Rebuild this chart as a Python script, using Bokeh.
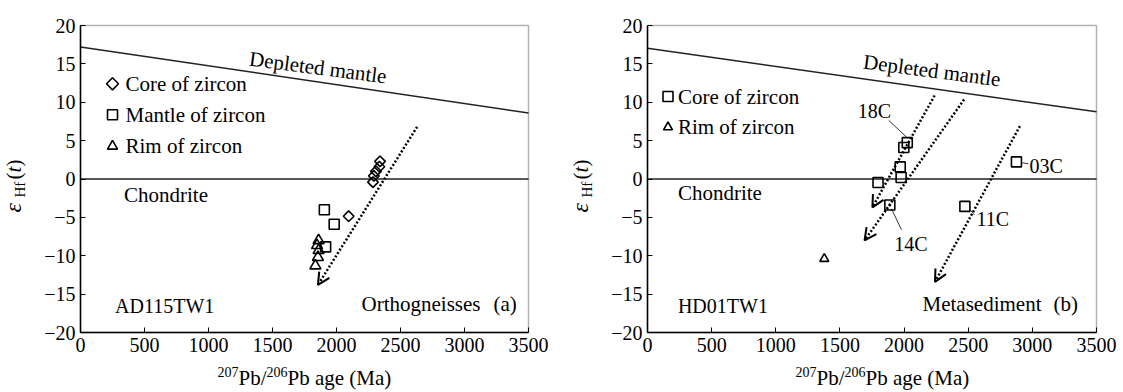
import math
from bokeh.plotting import figure
from bokeh.models import (Range1d, FixedTicker, Label, Arrow, OpenHead,
                          ColumnDataSource, LinearAxis, BoxAnnotation)
from bokeh.layouts import row
from bokeh.embed import file_html
from bokeh.resources import INLINE

FONT = "Liberation Serif"

# ---------------- data ----------------
age_ticks = [0, 500, 1000, 1500, 2000, 2500, 3000, 3500]
eps_ticks = [-20, -15, -10, -5, 0, 5, 10, 15, 20]
age_lim = (0, 3500)
eps_lim = (-20, 20)

dm_age = [0, 3500]
dm_eps_a = [17.2, 8.6]
dm_eps_b = [17.05, 8.75]
chon_age = [0, 3500]
chon_eps = [0, 0]

# panel (a) AD115TW1
a_core_age = [2340, 2335, 2308, 2292, 2285, 2095]
a_core_eps = [2.3, 1.6, 1.0, 0.4, -0.4, -4.85]
a_mantle_age = [1905, 1982, 1915]
a_mantle_eps = [-4.0, -5.9, -8.85]
a_rim_age = [1860, 1848, 1860, 1855, 1835]
a_rim_eps = [-8.0, -8.65, -9.3, -10.2, -11.3]
a_arrow_age0 = [2630]
a_arrow_eps0 = [6.8]
a_arrow_age1 = [1855]
a_arrow_eps1 = [-13.8]

# panel (b) HD01TW1
b_core_age = [2025, 1998, 1970, 1977, 1797, 1889, 2474, 2876]
b_core_eps = [4.74, 4.1, 1.58, 0.2, -0.45, -3.39, -3.57, 2.23]
b_rim_age = [1378]
b_rim_eps = [-10.4]
b_arrow_age0 = [2238, 2468, 2903]
b_arrow_eps0 = [10.88, 10.36, 6.9]
b_arrow_age1 = [1753, 1692, 2241]
b_arrow_eps1 = [-3.7, -8.0, -13.4]
b_spot_names = ["18C", "14C", "11C", "03C"]
b_lead_age0 = [1881, 1980, 2513, 2922]
b_lead_eps0 = [7.62, -6.62, -4.0, 2.11]
b_lead_age1 = [2030, 1902, 2548, 2970]
b_lead_eps1 = [5.3, -3.88, -4.67, 1.98]

# ---------------- layout helpers ----------------
TOP, BOTTOM = 25, 332      # page px of the data frame (eps 20 / -20)
H = 392


def converter(left, right):
    """page pixel -> data coordinate"""
    def conv(px, py):
        return ((px - left) / (right - left) * 3500.0,
                20.0 - (py - TOP) / (BOTTOM - TOP) * 40.0)
    return conv


def lab(p, conv, px, py, text, size=21, align="left", angle=0.0, style="normal"):
    x, y = conv(px, py)
    p.add_layout(Label(x=x, y=y, text=text, text_font=FONT,
                       text_font_size=f"{size}px", text_align=align,
                       text_baseline="middle", angle=angle,
                       text_font_style=style, text_color="black"))


def make_fig(conv, x0, x1):
    xs, ye = conv(x0, 0)
    xe, ys = conv(x1, H)
    p = figure(width=x1 - x0, height=H, x_range=Range1d(xs, xe),
               y_range=Range1d(ys, ye), output_backend="svg",
               toolbar_location=None, min_border=0,
               x_axis_location=None, y_axis_location=None, title=None)
    p.grid.visible = False
    p.outline_line_color = None
    p.background_fill_color = "white"
    p.border_fill_color = "white"
    xa = LinearAxis(fixed_location=eps_lim[0], bounds=age_lim,
                    ticker=FixedTicker(ticks=age_ticks))
    ya = LinearAxis(fixed_location=age_lim[0], bounds=eps_lim,
                    ticker=FixedTicker(ticks=eps_ticks))
    ya.major_label_overrides = {t: ("\u2212%d" % -t if t < 0 else str(t)) for t in eps_ticks}
    for ax in (xa, ya):
        ax.axis_line_width = 1.5
        ax.axis_line_color = "black"
        ax.major_tick_in = 5
        ax.major_tick_out = 0
        ax.major_tick_line_color = "black"
        ax.minor_tick_in = 0
        ax.minor_tick_out = 0
        ax.major_label_text_font = FONT
        ax.major_label_text_font_size = "20px"
        ax.major_label_text_color = "black"
        ax.major_label_standoff = 5
    p.add_layout(xa, "below")
    p.add_layout(ya, "left")
    p.add_layout(BoxAnnotation(left=age_lim[0], right=age_lim[1],
                               bottom=eps_lim[0], top=eps_lim[1],
                               fill_alpha=0, line_color="black", line_width=1.5))
    return p


def axis_titles(p, conv, ylab_x, xlab_x):
    # y title  epsilon_Hf(t), rotated; anchors are em-box middles
    r = math.pi / 2
    lab(p, conv, ylab_x - 8.2, 212, "\u03b5", size=24, angle=r, style="italic")
    lab(p, conv, ylab_x - 1.1, 197, "Hf", size=15, angle=r)
    lab(p, conv, ylab_x - 7.1, 179, "(", size=21, angle=r)
    lab(p, conv, ylab_x - 7.1, 172, "t", size=21, angle=r, style="italic")
    lab(p, conv, ylab_x - 7.1, 166, ")", size=21, angle=r)
    # x title  207Pb/206Pb age (Ma)
    mid = 377.5
    sup = 371.5
    x = xlab_x
    lab(p, conv, x, sup, "207", size=14)
    x += 21
    lab(p, conv, x, mid, "Pb/", size=21)
    x += 28
    lab(p, conv, x, sup, "206", size=14)
    x += 21
    lab(p, conv, x, mid, "Pb age (Ma)", size=21)


def add_arrows(p, x0, y0, x1, y1):
    src = ColumnDataSource(dict(x0=x0, y0=y0, x1=x1, y1=y1))
    p.add_layout(Arrow(end=OpenHead(size=12, line_width=2, line_color="black"),
                       source=src, x_start="x0", y_start="y0", x_end="x1", y_end="y1",
                       line_width=2.5, line_dash="2 2", line_color="black"))


MK = dict(line_color="black", line_width=1.6, fill_alpha=0)
DM_ANGLE = -7.5 * math.pi / 180

# ---------------- panel (a) ----------------
ca = converter(80, 528)
pa = make_fig(ca, 0, 560)
pa.line(dm_age, dm_eps_a, line_color="#222222", line_width=1.5)
pa.line(chon_age, chon_eps, line_color="#222222", line_width=1.5)
add_arrows(pa, a_arrow_age0, a_arrow_eps0, a_arrow_age1, a_arrow_eps1)
pa.scatter(a_core_age, a_core_eps, marker="square", angle=math.pi / 4, size=7.5, **MK)
pa.scatter(a_mantle_age, a_mantle_eps, marker="square", size=10, **MK)
pa.scatter(a_rim_age, a_rim_eps, marker="triangle", size=11, **MK)

lx, ly = ca(112, 83.3)
pa.scatter([lx], [ly], marker="square", angle=math.pi / 4, size=8.5, **MK)
lx, ly = ca(112, 114.3)
pa.scatter([lx], [ly], marker="square", size=10, **MK)
lx, ly = ca(112, 145.7)
pa.scatter([lx], [ly], marker="triangle", size=10, **MK)
lab(pa, ca, 125, 83.3, "Core of zircon")
lab(pa, ca, 125, 114.3, "Mantle of zircon")
lab(pa, ca, 125, 145.7, "Rim of zircon")
lab(pa, ca, 123.5, 194, "Chondrite")
lab(pa, ca, 114.6, 305, "AD115TW1", size=20)
lab(pa, ca, 361, 303, "Orthogneisses")
lab(pa, ca, 493, 303, "(a)")
lab(pa, ca, 249, 58, "Depleted mantle", angle=DM_ANGLE)
axis_titles(pa, ca, 21, 217)

# ---------------- panel (b) ----------------
cb = converter(647, 1096)
pb = make_fig(cb, 560, 1123)
pb.line(dm_age, dm_eps_b, line_color="#222222", line_width=1.5)
pb.line(chon_age, chon_eps, line_color="#222222", line_width=1.5)
add_arrows(pb, b_arrow_age0, b_arrow_eps0, b_arrow_age1, b_arrow_eps1)
pb.segment(b_lead_age0, b_lead_eps0, b_lead_age1, b_lead_eps1, line_color="#333333", line_width=1)
pb.scatter(b_core_age, b_core_eps, marker="square", size=10, **MK)
pb.scatter(b_core_age[5:6], b_core_eps[5:6], marker="circle", size=2, fill_color="black", line_color="black")
pb.scatter(b_rim_age, b_rim_eps, marker="triangle", size=9, **MK)

lx, ly = cb(667.5, 96)
pb.scatter([lx], [ly], marker="square", size=10, **MK)
lx, ly = cb(667.5, 126.7)
pb.scatter([lx], [ly], marker="triangle", size=9, **MK)
lab(pb, cb, 677.4, 96, "Core of zircon")
lab(pb, cb, 677.4, 126.7, "Rim of zircon")
lab(pb, cb, 677.4, 192.7, "Chondrite")
lab(pb, cb, 677.4, 305, "HD01TW1", size=20)
lab(pb, cb, 922, 303, "Metasediment")
lab(pb, cb, 1053, 303, "(b)")
lab(pb, cb, 863, 61, "Depleted mantle", angle=DM_ANGLE)
lab(pb, cb, 874, 110, b_spot_names[0], size=20, align="center")
lab(pb, cb, 910.5, 243, b_spot_names[1], size=20, align="center")
lab(pb, cb, 976, 218, b_spot_names[2], size=20)
lab(pb, cb, 1029, 165.7, b_spot_names[3], size=20)
axis_titles(pb, cb, 588, 795)

layout = row(pa, pb, spacing=0)
open("out.html", "w").write(file_html(layout, INLINE))
